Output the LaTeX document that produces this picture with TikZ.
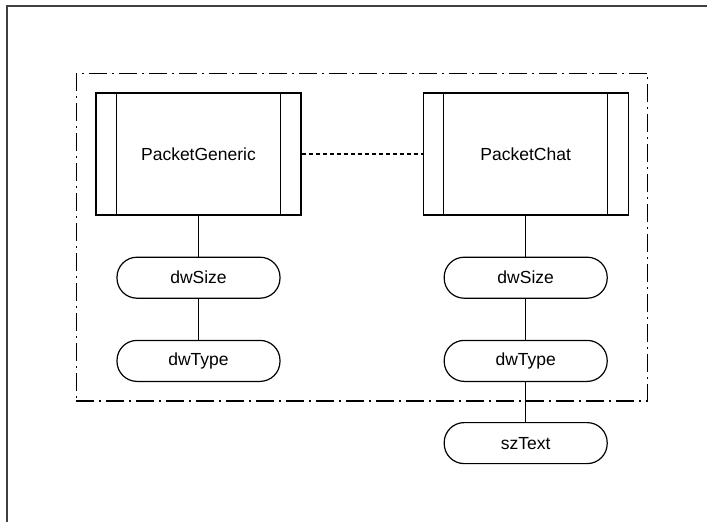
\documentclass[tikz,border=0pt]{standalone}
\usepackage{fontspec}
\setmainfont{Liberation Sans}
\usetikzlibrary{positioning,fit}

\tikzset{
  classbox/.style={draw,line width=1.2pt,minimum width=205pt,minimum height=122pt,inner sep=0pt},
  fieldbox/.style={draw,line width=1.2pt,rounded corners=20pt,minimum width=163pt,minimum height=41pt,inner sep=0pt},
  link/.style={line width=1.2pt},
}

\begin{document}
\begin{tikzpicture}[x=1pt,y=-1pt,font=\fontsize{17.5}{21}\selectfont]
\useasboundingbox (0,0) rectangle (707,522);
% ---------- outer frame ----------
\draw[line width=2pt,black!75] (707,6) -- (7,6) -- (7,522);
% ---------- classes ----------
\node[classbox] (pgen) at (198.5,154) {PacketGeneric};
\node[classbox,right=121pt of pgen] (pchat) {PacketChat};
\foreach \cls in {pgen,pchat} {
  \draw[link] ([xshift=21pt]\cls.north west) -- ([xshift=21pt]\cls.south west);
  \draw[link] ([xshift=-21pt]\cls.north east) -- ([xshift=-21pt]\cls.south east);
}
\draw[link,dash pattern=on 4pt off 3pt] (pgen) -- (pchat);
% ---------- fields of PacketGeneric ----------
\node[fieldbox,below=41pt of pgen] (gsize) {dwSize};
\node[fieldbox,below=41pt of gsize] (gtype) {dwType};
\draw[link] (pgen) -- (gsize);
\draw[link] (gsize) -- (gtype);
% ---------- fields of PacketChat ----------
\node[fieldbox,below=41pt of pchat] (csize) {dwSize};
\node[fieldbox,below=41pt of csize] (ctype) {dwType};
\node[fieldbox,below=40pt of ctype] (ctext) {szText};
\draw[link] (pchat) -- (csize);
\draw[link] (csize) -- (ctype);
\draw[link] (ctype) -- (ctext);
% ---------- group (dash-dot) ----------
\node[draw,line width=1.2pt,dash pattern=on 18pt off 5pt on 2pt off 5pt,inner sep=19pt,fit=(pgen)(pchat)(gtype)] (group) {};
\end{tikzpicture}
\end{document}
